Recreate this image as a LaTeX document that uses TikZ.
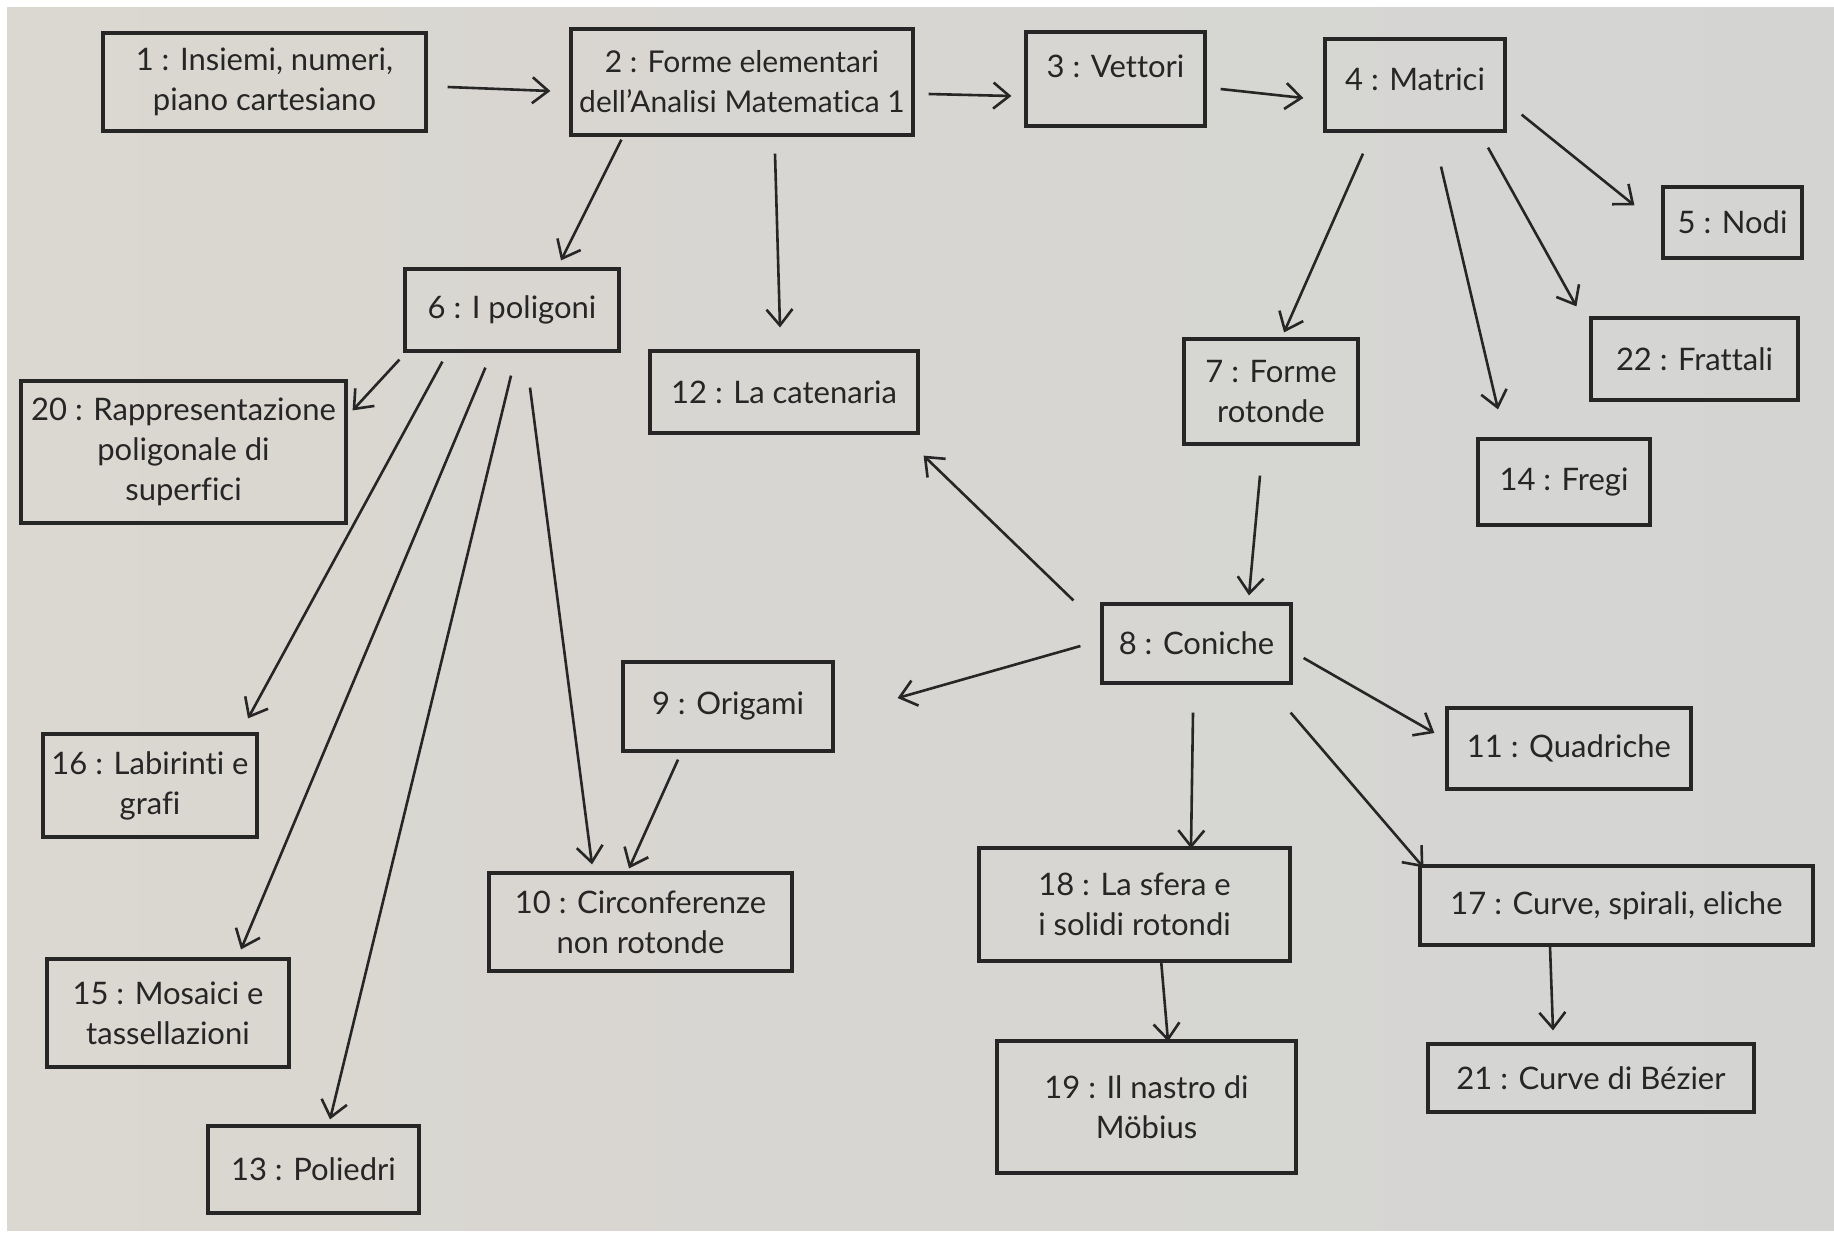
\documentclass[tikz,border=0pt]{standalone}
\usepackage{fontspec}
\setmainfont{Lato}[Ligatures=NoCommon]
\usetikzlibrary{arrows.meta,calc}
\definecolor{ink}{HTML}{262626}
\definecolor{paperL}{RGB}{219,215,209}
\definecolor{paperR}{RGB}{212,213,211}
\tikzset{
  box/.style={draw=ink, line width=1.6pt, inner sep=2pt, align=center, text=ink,
    font=\fontsize{15.5}{20}\selectfont},
  boxone/.style={draw=ink, line width=1.6pt, inner sep=2pt, text=ink,
    font=\fontsize{15.5}{20}\selectfont},
  conn/.style={draw=ink, line width=1.3pt, -{Straight Barb[length=8pt,width=13pt,line width=1.3pt]}}
}
\begin{document}
\begin{tikzpicture}[x=0.5pt,y=-0.5pt]
\useasboundingbox (0,0) rectangle (1834,1232);
\fill[white] (0,0) rectangle (1834,1232);
\fill[left color=paperL,right color=paperR] (7,7) rectangle (1834,1230);

% boxes
\node[box, minimum width=161.5pt, minimum height=49pt] (n1) at (264.5,82) {1 : Insiemi, numeri,\\piano cartesiano};
\node[box, minimum width=171pt, minimum height=53pt, font=\fontsize{15}{20}\selectfont] (n2) at (742,82) {2 : Forme elementari\\dell'Analisi Matematica 1};
\node[boxone, minimum width=89.5pt, minimum height=47pt, text depth=13pt] (n3) at (1115.5,79) {3 : Vettori};
\node[boxone, minimum width=90pt, minimum height=46pt, text depth=6pt] (n4) at (1415,85) {4 : Matrici};
\node[box, minimum width=69.5pt, minimum height=35.5pt] (n5) at (1732.5,222.5) {5 : Nodi};
\node[box, minimum width=107pt, minimum height=41pt] (n6) at (512,310) {6 : I poligoni};
\node[box, minimum width=134pt, minimum height=41pt] (n12) at (784,392) {12 : La catenaria};
\node[box, minimum width=162.5pt, minimum height=71pt] (n20) at (183.5,452) {20 : Rappresentazione\\poligonale di\\superfici};
\node[box, minimum width=87pt, minimum height=52.5pt] (n7) at (1271,391.5) {7 : Forme\\rotonde};
\node[box, minimum width=103.5pt, minimum height=41pt] (n22) at (1694.5,359) {22 : Frattali};
\node[box, minimum width=86pt, minimum height=43pt] (n14) at (1564,482) {14 : Fregi};
\node[box, minimum width=94.5pt, minimum height=39.5pt] (n8) at (1196.5,643.5) {8 : Coniche};
\node[box, minimum width=105pt, minimum height=44.5pt] (n9) at (728,706.5) {9 : Origami};
\node[box, minimum width=122pt, minimum height=40.5pt] (n11) at (1569,748.5) {11 : Quadriche};
\node[box, minimum width=107pt, minimum height=51.5pt] (n16) at (150,785.5) {16 : Labirinti e\\grafi};
\node[box, minimum width=151.5pt, minimum height=49pt] (n10) at (640.5,922) {10 : Circonferenze\\non rotonde};
\node[box, minimum width=155.5pt, minimum height=56.5pt] (n18) at (1134.5,904.5) {18 : La sfera e\\i solidi rotondi};
\node[box, minimum width=196.5pt, minimum height=39.5pt] (n17) at (1616.5,905.5) {17 : Curve, spirali, eliche};
\node[box, minimum width=121pt, minimum height=54pt] (n15) at (168,1013) {15 : Mosaici e\\tassellazioni};
\node[box, minimum width=149.5pt, minimum height=66pt] (n19) at (1146.5,1107) {19 : Il nastro di\\Möbius};
\node[box, minimum width=163pt, minimum height=34pt] (n21) at (1591,1078) {21 : Curve di Bézier};
\node[box, minimum width=105.5pt, minimum height=43.5pt] (n13) at (313.5,1169.5) {13 : Poliedri};

% connectors
\draw[conn] ($(n1.east)+(20,5)$) -- ($(n2.west)+(-19,9)$);
\draw[conn] ($(n2.east)+(14,12)$) -- ($(n3.west)+(-13,17)$);
\draw[conn] ($(n3.east)+(14,10)$) -- ($(n4.west)+(-20,13)$);
\draw[conn] ($(n4.south east)+(15,-18)$) -- ($(n5.north west)+(-27,20)$);
\draw[conn] ($(n4.south)+(-52,21)$) -- ($(n7.north)+(13,-5)$);
\draw[conn] ($(n4.south)+(26,34)$) -- ($(n14.north)+(-66,-28)$);
\draw[conn] ($(n4.south)+(73,15)$) -- ($(n22.north west)+(-13,-10)$);
\draw[conn] ($(n2.south west)+(52,3)$) -- ($(n6.north)+(49,-7)$);
\draw[conn] ($(n2.south)+(33,17)$) -- ($(n12.north)+(-4,-22)$);
\draw[conn] ($(n6.south west)+(-4,7)$) -- ($(n20.north east)+(5,31)$);
\draw[conn] ($(n6.south west)+(39,9)$) -- ($(n16.north)+(98,-14)$);
\draw[conn] ($(n6.south west)+(82,15)$) -- ($(n15.north)+(73,-8)$);
\draw[conn] ($(n6.south)+(-1,23)$) -- ($(n13.north)+(16.5,-5)$);
\draw[conn] ($(n6.south)+(18,35)$) -- ($(n10.north)+(-48.5,-7)$);
\draw[conn] ($(n9.south)+(-50,7)$) -- ($(n10.north)+(-11.5,-3)$);
\draw[conn] ($(n7.south)+(-11,30)$) -- ($(n8.north)+(52.5,-7)$);
\draw[conn] ($(n8.north west)+(-27,-2)$) -- ($(n12.south east)+(4,21)$);
\draw[conn] ($(n8.west)+(-20,2.5)$) -- ($(n9.east)+(63,-8.5)$);
\draw[conn] ($(n8.east)+(11,14.5)$) -- ($(n11.west)+(-11,-15.5)$);
\draw[conn] ($(n8.south)+(-3.5,28)$) -- ($(n18.north)+(56.5,2)$);
\draw[conn] ($(n8.south east)+(-2,28)$) -- ($(n17.north west)+(5,3)$);
\draw[conn] ($(n18.south)+(26.5,-3)$) -- ($(n19.north)+(21.5,2)$);
\draw[conn] ($(n17.south)+(-66.5,0)$) -- ($(n21.north)+(-38,-12)$);
\end{tikzpicture}
\end{document}
